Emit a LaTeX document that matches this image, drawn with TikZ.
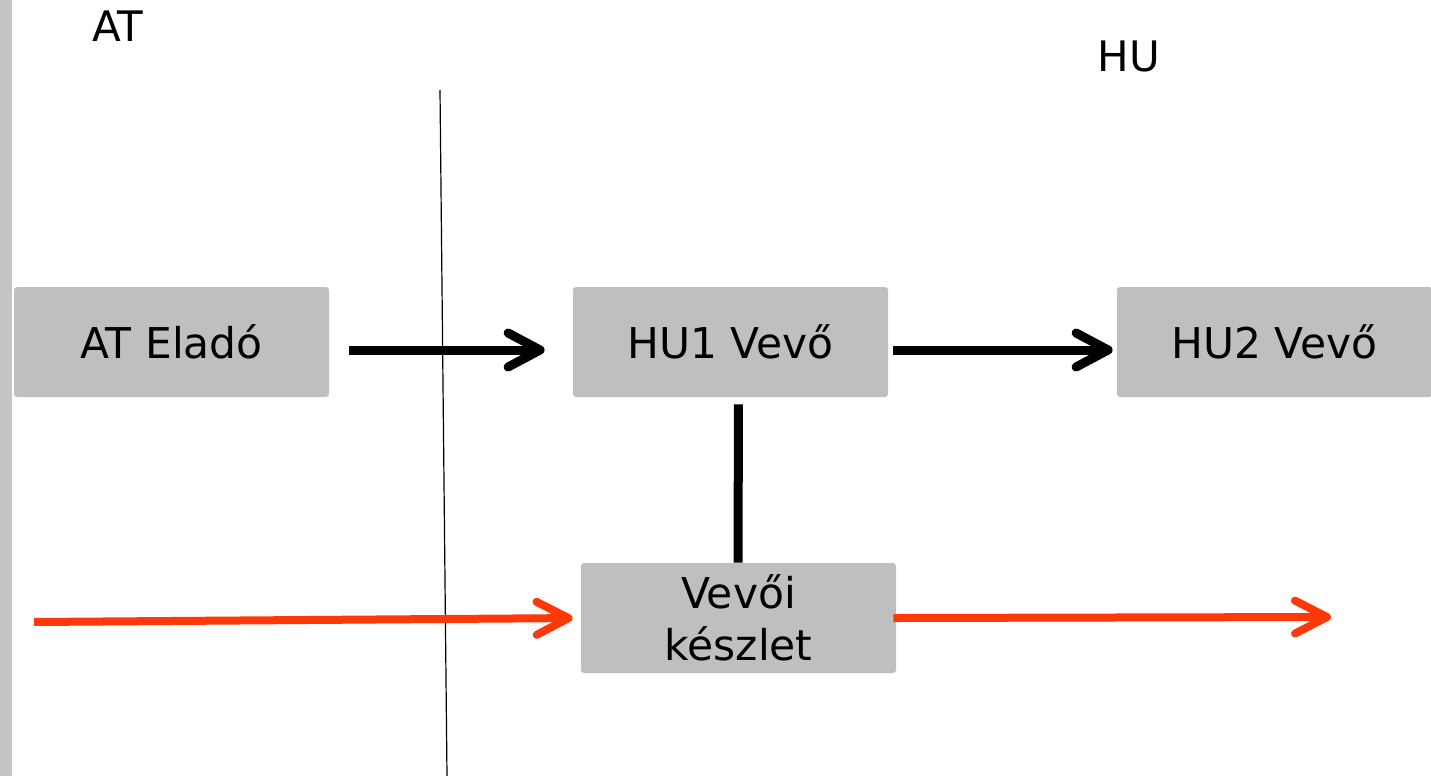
\documentclass[tikz,border=0pt]{standalone}
\usepackage{fontspec}
\setmainfont{DejaVu Sans}
\usetikzlibrary{arrows.meta}
\begin{document}
\begin{tikzpicture}
[x=0.5pt,y=-0.5pt,
 partybox/.style={fill=boxgray,rounded corners=1.5pt,minimum width=157.5pt,minimum height=55pt,inner sep=0pt,align=center,font=\fontsize{21.2}{26}\selectfont},
 flowline/.style={line width=4.5pt,-{Straight Barb[length=16pt,width=17pt,round]}},
 goodsline/.style={line width=4pt,draw=goodsred,-{Straight Barb[length=16pt,width=16.5pt,round]}},
 countrylabel/.style={font=\fontsize{21}{25}\selectfont}]
\definecolor{boxgray}{RGB}{191,191,191}
\definecolor{stripgray}{RGB}{196,197,199}
\definecolor{goodsred}{RGB}{255,56,10}
\useasboundingbox (0,0) rectangle (1431,776);
%% frame strip and border line
\fill[stripgray] (0,0) rectangle (12,776);
\draw[line width=0.6pt] (440,90) -- (447,776);
\node[countrylabel] (at) at (118,26) {AT};
\node[countrylabel] (hu) at (1129,56) {HU};
%% the parties
\node[partybox] (elado) at (171.5,342) {AT Eladó};
\node[partybox] (hu1) at (730.5,342) {HU1 Vevő};
\node[partybox] (hu2) at (1274.5,342) {HU2 Vevő};
\node[partybox] (keszlet) at (738.5,618) {Vevői\\készlet};
\coordinate (instart) at (34,622);
\coordinate (outend) at (1331,617);
%% invoice and goods flow
\draw[flowline,shorten <=10pt,shorten >=14pt] (elado.east) ++(0,8) -- ([yshift=-4pt]hu1.west);
\draw[flowline,shorten <=2.5pt,shorten >=2pt] ([yshift=-4pt]hu1.east) -- ([yshift=-4pt]hu2.west);
\draw[line width=4.5pt,shorten <=3.5pt] ([xshift=4pt]hu1.south) -- ([xshift=-0.25pt]keszlet.north);
\draw[goodsline,shorten >=4pt] (instart) -- (keszlet.west);
\draw[goodsline,shorten <=-1.5pt] (keszlet.east) -- (outend);
\end{tikzpicture}
\end{document}
